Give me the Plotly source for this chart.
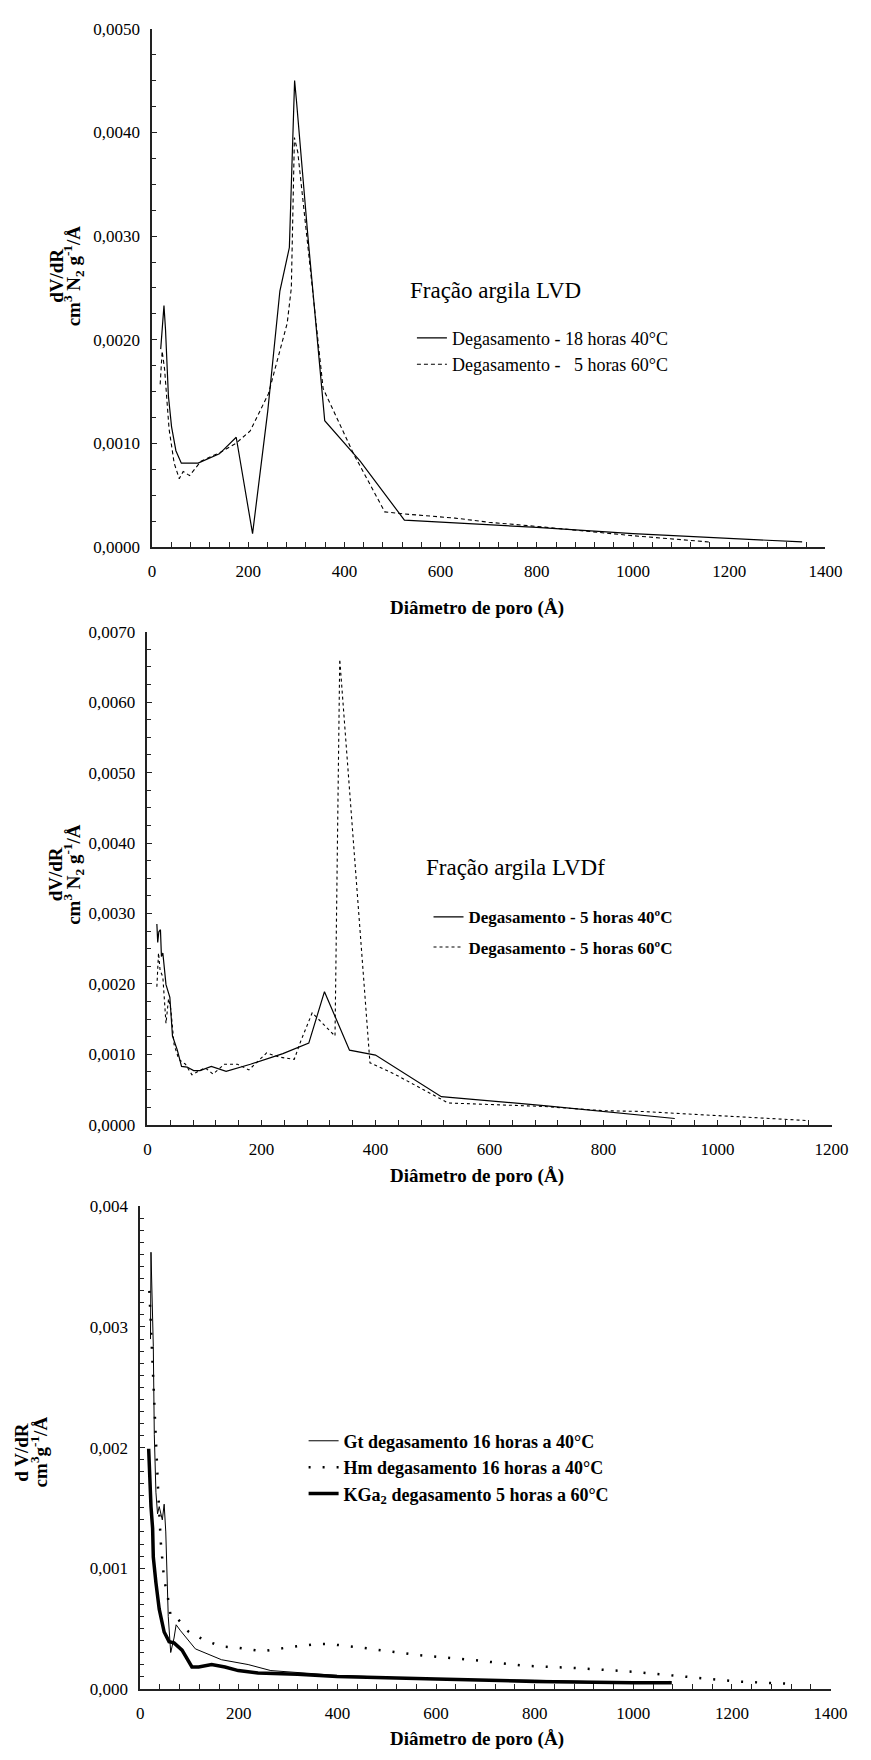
import plotly.graph_objects as go

# ---- Fração argila LVD ----
lvd_d_18h40 = [18, 24.8, 28, 34, 40.6, 49.6, 60.9, 95.8, 140, 175, 209, 240.5, 265.8, 285.5,
               296.4, 300, 324, 359, 432.7, 524.7, 800, 1000, 1351.6]
lvd_v_18h40 = [0.00191, 0.00233, 0.00210, 0.00146, 0.00116, 0.00093, 0.00081, 0.00081, 0.00090,
               0.00106, 0.00013, 0.00131, 0.00247, 0.00289, 0.00450, 0.00432, 0.00300, 0.00122,
               0.00083, 0.00026, 0.00019, 0.00013, 0.00005]
lvd_d_5h60 = [16.9, 21, 26, 35.4, 46, 56.6, 64.7, 78, 102, 140, 174, 204, 242, 281, 289.6, 296,
              303, 355.7, 419, 483.8, 524.7, 630, 700, 800, 1000, 1157.7]
lvd_v_5h60 = [0.00157, 0.00189, 0.00172, 0.00114, 0.00081, 0.00066, 0.00073, 0.00069, 0.00083,
              0.00091, 0.00100, 0.00112, 0.00148, 0.00216, 0.00250, 0.00395, 0.00381, 0.00153,
              0.00090, 0.00034, 0.00032, 0.00028, 0.00024, 0.00020, 0.00011, 0.00005]

# ---- Fração argila LVDf ----
lvdf_d_5h40 = [16.5, 18, 20, 22.8, 24.5, 27, 32.5, 39.3, 43.9, 52.4, 59.8, 69.5, 81, 92.3, 112,
               138, 180.6, 237.6, 283, 310.5, 354.4, 400, 515.5, 700, 925]
lvdf_v_5h40 = [0.00285, 0.00259, 0.00274, 0.00277, 0.00239, 0.00244, 0.00199, 0.00181, 0.00126,
               0.00106, 0.00083, 0.00082, 0.00077, 0.00077, 0.00083, 0.00076, 0.00086, 0.00101,
               0.00116, 0.00189, 0.00106, 0.00099, 0.00040, 0.00027, 0.00009]
lvdf_d_5h60 = [16.5, 19.4, 22.2, 27, 32.5, 37, 41, 46.7, 55, 66.7, 78, 89.5, 101, 115, 135, 158,
               178, 209, 232, 257.5, 269, 289, 329, 337.3, 390.3, 431, 527.5, 697, 801, 866,
               986.6, 1159.7]
lvdf_v_5h60 = [0.00196, 0.00244, 0.00219, 0.00210, 0.00144, 0.00179, 0.00164, 0.00114, 0.00093,
               0.00086, 0.00071, 0.00076, 0.00081, 0.00072, 0.00086, 0.00086, 0.00078, 0.00102,
               0.00096, 0.00093, 0.00119, 0.00159, 0.00126, 0.00661, 0.00088, 0.00073, 0.00031,
               0.00026, 0.00020, 0.00019, 0.00014, 0.00006]

# ---- Gt, Hm, KGa2 ----
gt_d = [21, 22, 26.7, 28.7, 32, 35.3, 38.7, 45, 48.7, 52, 57, 62, 68.7, 73, 82, 112, 165, 219,
        265, 300, 400, 600, 800, 1000, 1075]
gt_v = [0.00290, 0.00362, 0.00284, 0.00211, 0.00163, 0.00145, 0.00151, 0.00140, 0.00153,
        0.00130, 0.00060, 0.00030, 0.00042, 0.00053, 0.00048, 0.00033, 0.00024, 0.00020,
        0.00015, 0.00014, 0.00011, 0.00008, 0.00007, 0.00005, 0.00006]
hm_d = [18.7, 22, 23.5, 25, 28.7, 32, 37, 42, 48.7, 55, 62, 72, 98.7, 132, 165, 198, 247, 296,
        357, 384, 450, 560, 670, 780, 889, 1000, 1109, 1208, 1318]
hm_v = [0.00330, 0.00300, 0.00278, 0.00260, 0.00230, 0.00200, 0.00160, 0.00121, 0.00090,
        0.00079, 0.00060, 0.00060, 0.00047, 0.00040, 0.00035, 0.00034, 0.00031, 0.00034,
        0.00037, 0.00037, 0.00034, 0.00028, 0.00024, 0.00019, 0.00017, 0.00014, 0.00010,
        0.00006, 0.00004]
kga_d = [17.3, 18.7, 22, 25.3, 26.7, 32, 38.7, 48.7, 58.7, 68.7, 85, 105, 118.7, 145, 172, 199,
         239, 319, 399, 600, 800, 1000, 1078]
kga_v = [0.00199, 0.00181, 0.00151, 0.00133, 0.00109, 0.00088, 0.00066, 0.00047, 0.00039,
         0.00038, 0.00032, 0.00018, 0.00018, 0.00020, 0.00018, 0.00015, 0.00013, 0.00012,
         0.00010, 0.00008, 0.00006, 0.00005, 0.00005]

SERIF = "Liberation Serif"
W, H = 871, 1760


def px_x(p):
    return p / W


def px_y(p):
    return 1 - p / H


fig = go.Figure()


def add_line(x, y, name, line, axis_id, legend_id, group):
    suffix = "" if axis_id == 1 else str(axis_id)
    fig.add_trace(go.Scatter(x=x, y=y, mode="lines", name=name, line=line,
                             xaxis="x" + suffix, yaxis="y" + suffix,
                             legend=legend_id, legendgroup=group))


add_line(lvd_d_18h40, lvd_v_18h40, "Degasamento - 18 horas 40°C",
         dict(color="black", width=1.2), 1, "legend", "a")
add_line(lvd_d_5h60, lvd_v_5h60, "Degasamento -   5 horas 60°C",
         dict(color="black", width=1.1, dash="4px,3px"), 1, "legend", "b")

add_line(lvdf_d_5h40, lvdf_v_5h40, "Degasamento - 5 horas 40ºC",
         dict(color="black", width=1.2), 2, "legend2", "c")
add_line(lvdf_d_5h60, lvdf_v_5h60, "Degasamento - 5 horas 60ºC",
         dict(color="black", width=1.1, dash="3px,3px"), 2, "legend2", "d")

add_line(gt_d, gt_v, "Gt degasamento 16 horas a 40°C",
         dict(color="black", width=1), 3, "legend3", "e")
add_line(hm_d, hm_v, "Hm degasamento 16 horas a 40°C",
         dict(color="black", width=2.5, dash="2px,12px"), 3, "legend3", "f")
add_line(kga_d, kga_v, "KGa<sub>2</sub> degasamento 5 horas a 60°C",
         dict(color="black", width=3.5), 3, "legend3", "g")

tickfont = dict(family=SERIF, size=17, color="black")


def xaxis(dom, rng, anchor):
    return dict(domain=dom, range=rng, anchor=anchor, dtick=200, tick0=0,
                showline=True, linecolor="#222", linewidth=1.5, ticks="inside",
                ticklen=5, tickcolor="#222", showgrid=False, zeroline=False,
                tickfont=tickfont, ticklabelstandoff=8,
                minor=dict(dtick=40, ticks="inside", ticklen=5, tickcolor="#222"))


def yaxis(dom, rng, anchor, dt, mdt, fmt):
    return dict(domain=dom, range=rng, anchor=anchor, dtick=dt, tick0=0,
                tickformat=fmt, showline=True, linecolor="#222", linewidth=1.5,
                ticks="inside", ticklen=5, tickcolor="#222", showgrid=False,
                zeroline=False, tickfont=tickfont, ticklabelstandoff=7,
                minor=dict(dtick=mdt, ticks="inside", ticklen=4, tickcolor="#222"))


xtitle = "Diâmetro de poro (Å)"

annotations = []


def text(x, y, s, size, bold=False, angle=0, anchor="center"):
    annotations.append(dict(x=px_x(x), y=px_y(y), xref="paper", yref="paper",
                            text=("<b>%s</b>" % s) if bold else s, textangle=angle,
                            showarrow=False, xanchor=anchor, yanchor="middle",
                            font=dict(family=SERIF, size=size, color="black")))


# rotated y-axis titles, one line each
for x1, x2, yc, l1, l2 in [
    (53, 71, 270, "dV/dR", "cm<sup>3</sup> N<sub>2</sub> g<sup>-1</sup>/Å"),
    (53, 71, 875, "dV/dR", "cm<sup>3</sup> N<sub>2</sub> g<sup>-1</sup>/Å"),
    (18, 36, 1459, "d V/dR", "cm<sup>3</sup>g<sup>-1</sup>/Å"),
]:
    text(x1, yc, l1, 19, bold=True, angle=-90)
    text(x2, yc, l2, 19, bold=True, angle=-90)

# x-axis titles
for yc in [606, 1180, 1749]:
    text(485, yc, xtitle, 19, bold=True)

# panel headings
text(414, 285, "Fração argila LVD", 23, anchor="left")
text(430, 868, "Fração argila LVDf", 23, anchor="left")

fig.update_layout(
    width=W, height=H,
    margin=dict(l=0, r=0, t=0, b=0),
    paper_bgcolor="white", plot_bgcolor="white",
    separators=",.",
    font=dict(family=SERIF, color="black"),
    xaxis=xaxis([px_x(151.7), px_x(841.7)], [0, 1400], "y"),
    yaxis=yaxis([px_y(544), px_y(20)], [0, 0.005], "x", 0.001, 0.00025, ".4f"),
    xaxis2=xaxis([px_x(147), px_x(848)], [0, 1200], "y2"),
    yaxis2=yaxis([px_y(1128), px_y(629.5)], [0, 0.007], "x2", 0.001, 0.00025, ".4f"),
    xaxis3=xaxis([px_x(139.5), px_x(847)], [0, 1400], "y3"),
    yaxis3=yaxis([px_y(1698), px_y(1210.5)], [0, 0.004], "x3", 0.001, 0.0001, ".3f"),
    legend=dict(x=px_x(418), y=px_y(314), xanchor="left", yanchor="top",
                bgcolor="rgba(0,0,0,0)", tracegroupgap=0,
                font=dict(family=SERIF, size=18)),
    legend2=dict(x=px_x(435), y=px_y(900), xanchor="left", yanchor="top",
                 bgcolor="rgba(0,0,0,0)", tracegroupgap=5,
                 font=dict(family=SERIF, size=17, weight="bold")),
    legend3=dict(x=px_x(307), y=px_y(1429), xanchor="left", yanchor="top",
                 bgcolor="rgba(0,0,0,0)", tracegroupgap=0,
                 font=dict(family=SERIF, size=18, weight="bold")),
    annotations=annotations,
)

fig.write_html("out.html")
